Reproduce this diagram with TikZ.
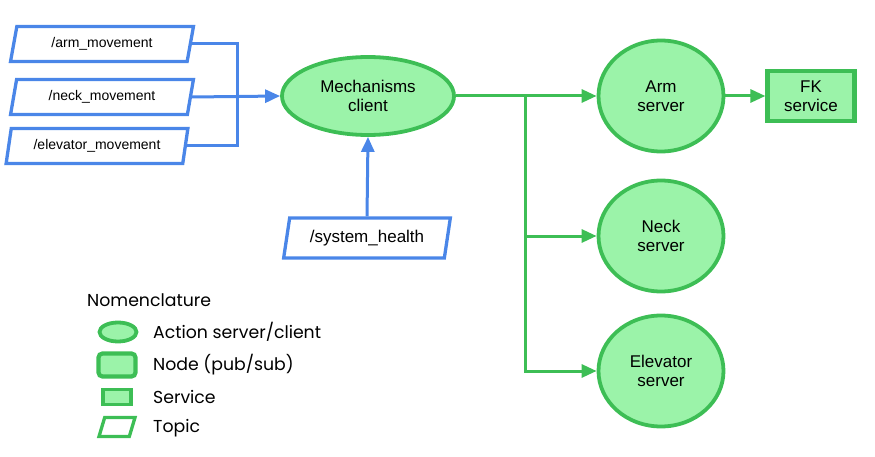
\documentclass[tikz,border=0pt]{standalone}
\usepackage{fontspec}
\setmainfont{Liberation Sans}
\newfontfamily\legendfont{Poppins}
\usetikzlibrary{shapes.geometric,arrows.meta}
\definecolor{TOPIC}{HTML}{4A86E8}
\definecolor{NODEFILL}{HTML}{9BF3A9}
\definecolor{NODELINE}{HTML}{3DBE55}

\begin{document}
\begin{tikzpicture}[x=1pt, y=-1pt,
	every node/.style={text=black, inner sep=0pt},
	topic/.style={draw=TOPIC, line width=3.3pt, trapezium, trapezium left angle=77, trapezium right angle=103, trapezium stretches=true, inner sep=2pt, minimum height=35pt, font=\fontsize{14}{16}\selectfont},
	action/.style={draw=NODELINE, fill=NODEFILL, ellipse, line width=3.8pt, align=center, font=\fontsize{17}{19.5}\selectfont},
	service/.style={draw=NODELINE, fill=NODEFILL, rectangle, line width=4.2pt, align=center, font=\fontsize{17}{19.5}\selectfont},
	legendtext/.style={anchor=west, font=\legendfont\fontsize{17.3}{19}\selectfont},
	blueline/.style={draw=TOPIC, line width=3pt},
	greenline/.style={draw=NODELINE, line width=3pt},
	tip/.style={-{Triangle[length=15pt,width=13pt]}}]
	\useasboundingbox (0,0) rectangle (875,457);

	\node [topic, minimum width=183pt] (armtopic) at (102,44) {/arm\_movement};
	\node [topic, minimum width=183pt] (necktopic) at (102,97) {/neck\_movement};
	\node [topic, minimum width=182pt] (elevtopic) at (97,146) {/elevator\_movement};
	\node [topic, minimum width=167pt, minimum height=40pt, font=\fontsize{17}{19}\selectfont] (health) at (367,238) {/system\_health};

	\node [action, minimum width=172pt, minimum height=78pt] (mech) at (368,96) {Mechanisms\\client};
	\node [action, minimum width=125pt, minimum height=111pt] (armsrv) at (661,96) {Arm\\server};
	\node [action, minimum width=125pt, minimum height=111pt] (necksrv) at (661,236) {Neck\\server};
	\node [action, minimum width=125pt, minimum height=111pt] (elevsrv) at (661,371) {Elevator\\server};
	\node [service, minimum width=87pt, minimum height=50pt] (fk) at (811,96) {FK\\service};

	\coordinate (topicjoin) at (237,97);
	\coordinate (mechjoin) at (525,96);

	\draw [blueline] (armtopic.east) -| (topicjoin);
	\draw [blueline] (elevtopic.east) -| (topicjoin);
	\draw [blueline, tip] (necktopic.east) -- (mech.west);
	\draw [blueline, tip] (health.north) -- (mech.south);

	\draw [greenline] (mech.east) -- (mechjoin);
	\draw [greenline, tip] (mechjoin) -- (armsrv.west);
	\draw [greenline, tip] (mechjoin) |- (necksrv.west);
	\draw [greenline, tip] (mechjoin) |- (elevsrv.west);
	\draw [greenline, tip] (armsrv.east) -- (fk.west);

	\node [legendtext] (nomen) at (87,300) {Nomenclature};
	\node [action, minimum width=37pt, minimum height=19pt] (legaction) at (118,332) {};
	\node [service, rounded corners=4pt, minimum width=37pt, minimum height=23pt] (legnode) at (117,365) {};
	\node [service, line width=3.5pt, minimum width=28pt, minimum height=15pt] (legservice) at (117,397) {};
	\node [topic, draw=NODELINE, minimum width=36pt, minimum height=19pt] (legtopic) at (117,427) {};
	\node [legendtext] (legactiontext) at (153,332) {Action server/client};
	\node [legendtext] (legnodetext) at (153,365) {Node (pub/sub)};
	\node [legendtext] (legservicetext) at (153,397) {Service};
	\node [legendtext] (legtopictext) at (153,428) {Topic};
\end{tikzpicture}
\end{document}
